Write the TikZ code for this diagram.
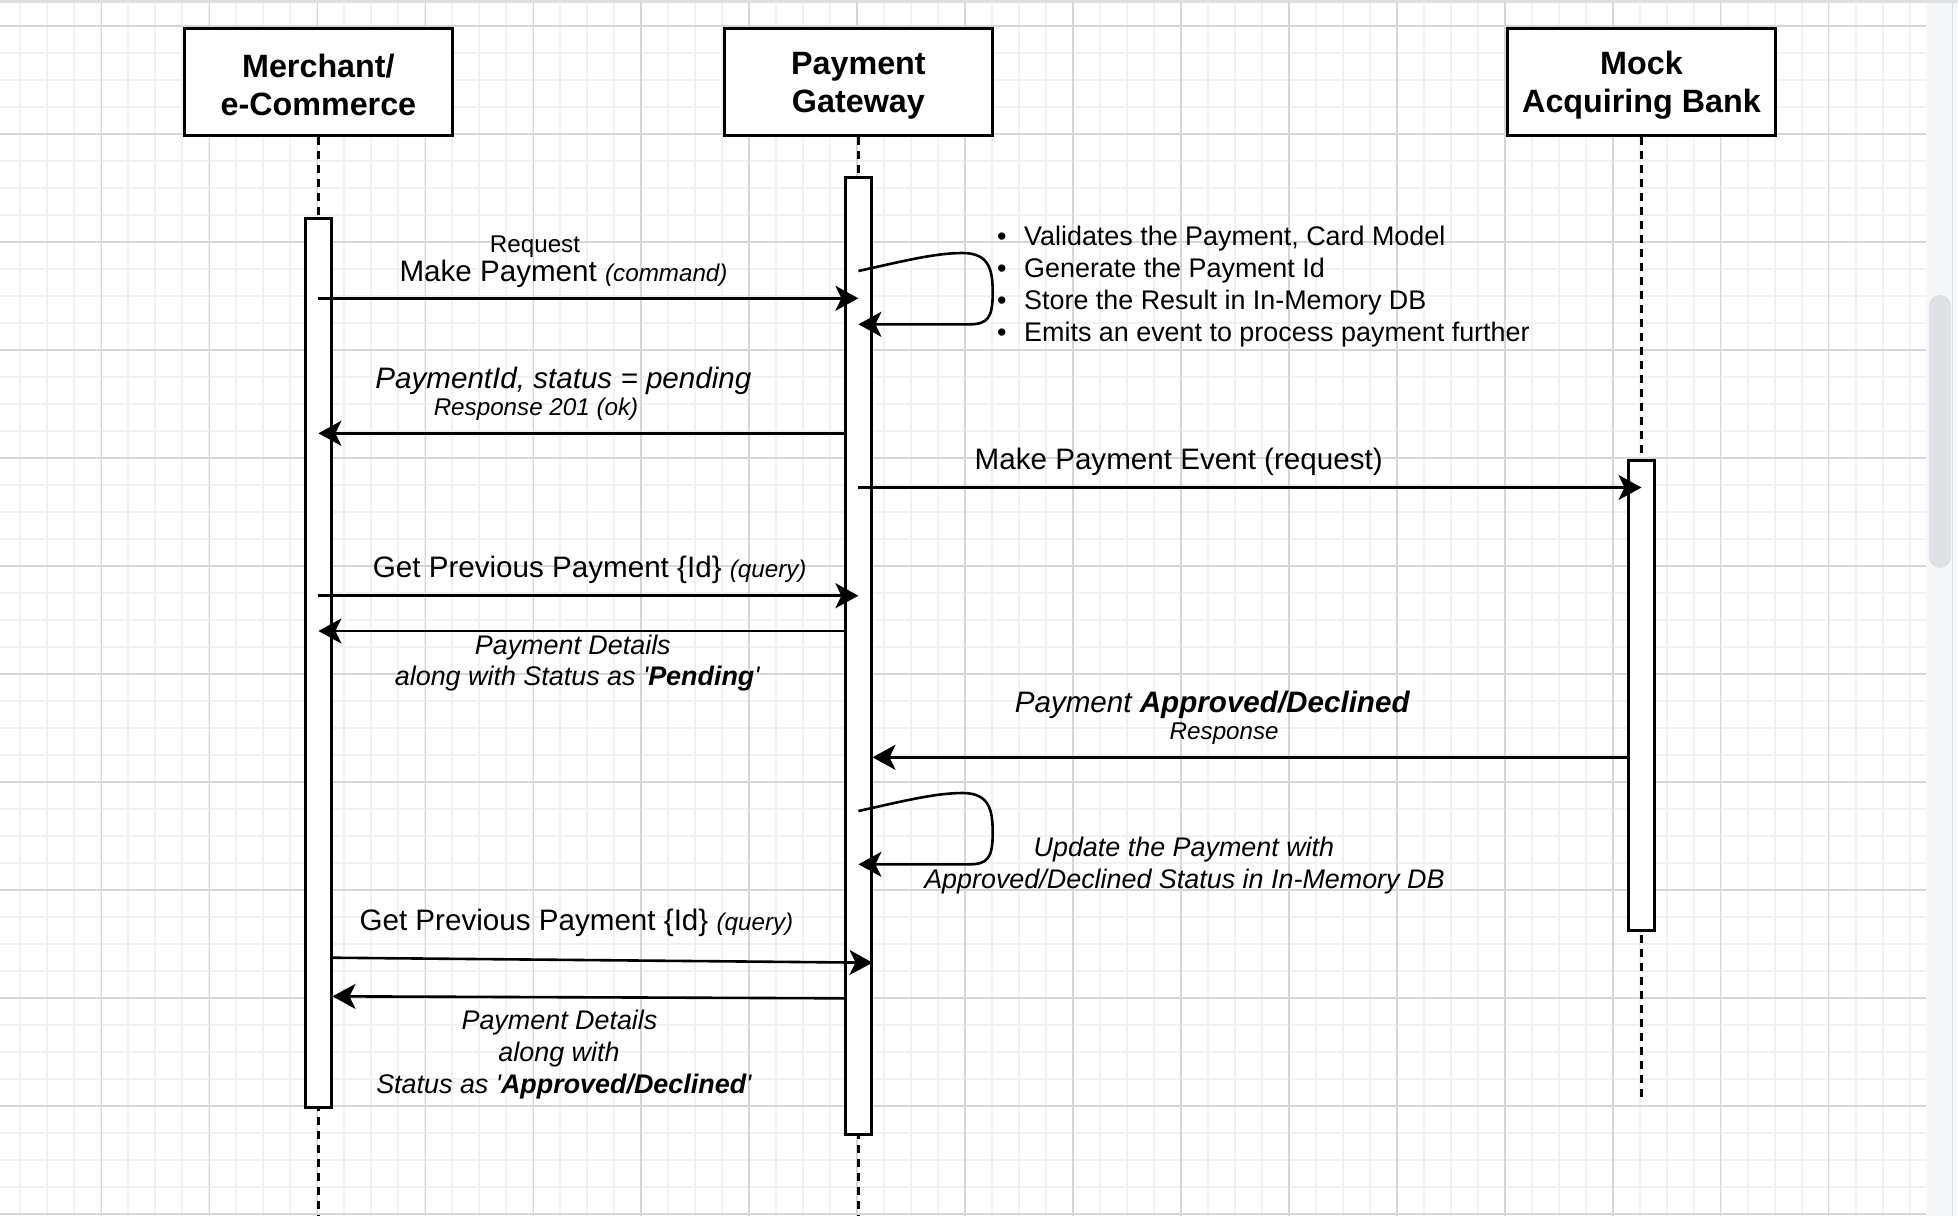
\documentclass[tikz,border=0pt]{standalone}
\usepackage{fontspec}
\setmainfont{Liberation Sans}
\usetikzlibrary{arrows.meta}

\definecolor{gridminor}{HTML}{F1F1F1}
\definecolor{gridmajor}{HTML}{D6D6D6}
\definecolor{chrome}{HTML}{F6F7F9}
\definecolor{chromeline}{HTML}{D9DADE}
\definecolor{thumbgray}{HTML}{DFE0E4}
\definecolor{topband}{HTML}{DEDFE3}

\newcommand\fsTitle{\fontsize{32.3}{38.5}\selectfont\bfseries}
\newcommand\fsMain{\fontsize{29.6}{35.5}\selectfont}
\newcommand\fsMid{\fontsize{26.9}{32.3}\selectfont}
\newcommand\fsSmall{\fontsize{24.2}{29}\selectfont}
% fixed line extents so every title sits on the same baselines
\newcommand\topstrut{\rule{0pt}{29pt}}
\newcommand\botstrut{\rule{0pt}{0pt}}

\begin{document}
\begin{tikzpicture}[x=1pt,y=-1pt,
  actor/.style={draw, line width=2.7pt, fill=white, minimum width=268pt,
    minimum height=107pt, inner sep=0pt, align=center, font=\fsTitle},
  bar/.style={draw, line width=2.7pt, fill=white, minimum width=25.5pt, inner sep=0pt},
  life/.style={line width=2.4pt, dash pattern=on 8pt off 6pt},
  msg/.style={line width=2.6pt, -{Stealth[length=23pt, width=25pt, inset=6pt]}},
  lbl/.style={inner sep=0pt, anchor=base},
  item/.style={inner sep=0pt, anchor=base west, font=\fsMid},
  dot/.style={inner sep=0pt, anchor=base, font=\fsMid},
]
\useasboundingbox (0,0) rectangle (1958,1216);

% canvas background with grid
\fill[white] (0,0) rectangle (1958,1216);
\begin{scope}
  \clip (0,0) rectangle (1926,1216);
  \foreach \i in {0,...,71}
    \draw[gridminor, line width=2pt] ({-6.5+26.9875*\i},0) -- ++(0,1216);
  \foreach \j in {0,...,45}
    \draw[gridminor, line width=2pt] (0,{-1+27*\j}) -- ++(1926,0);
  \foreach \i in {0,4,...,68}
    \draw[gridmajor, line width=1.5pt] ({-6.5+26.9875*\i},0) -- ++(0,1216);
  \foreach \j in {1,5,...,45}
    \draw[gridmajor, line width=1.5pt] (0,{-1+27*\j}) -- ++(1926,0);
\end{scope}
\fill[topband] (0,0) rectangle (1958,2.5);
\fill[chrome] (1926,2.5) rectangle (1958,1216);
\draw[chromeline, line width=1pt] (1952,2.5) -- (1952,1216);
\fill[thumbgray, rounded corners=11pt] (1929,295) rectangle (1951,568);

% participants
\node[actor] (merchant) at (318.4,82.2) {\topstrut Merchant/\\e-Commerce\botstrut};
\node[actor] (gateway) at (858.4,82.2) {\topstrut Payment\\Gateway\botstrut};
\node[actor] (bank) at (1641.5,82.2) {\topstrut Mock\\Acquiring Bank\botstrut};

% lifelines
\draw[life] (merchant.south) -- (merchant.south |- 0,1216);
\draw[life] (gateway.south) -- (gateway.south |- 0,1216);
\draw[life] (bank.south) -- (bank.south |- 0,1099);

% activation bars
\node[bar, minimum height=889pt] (mbar) at (318.4,662.75) {};
\node[bar, minimum height=957pt] (gbar) at (858.4,655.85) {};
\node[bar, minimum height=469.5pt] (bbar) at (1641.5,695.4) {};

% messages
\draw[msg] (mbar.center |- 0,298.3) -- (gbar.center |- 0,298.3);
\draw[msg] (gbar.center |- 0,271)
  .. controls +(41,-9) and +(-28,0) .. ++(104,-18)
  .. controls +(27,0) and +(0,-23) .. ++(30.3,40)
  .. controls +(0,25) and +(18,0) .. ++(-23.3,31.3) -- ++(-111,0);
\draw[msg] (gbar.west |- 0,433.3) -- (mbar.center |- 0,433.3);
\draw[msg] (gbar.center |- 0,487.5) -- (bbar.center |- 0,487.5);
\draw[msg] (mbar.center |- 0,595.7) -- (gbar.center |- 0,595.7);
\draw[msg] (gbar.west |- 0,631) -- (mbar.center |- 0,631);
\draw[msg] (bbar.west |- 0,757.3) -- (gbar.east |- 0,757.3);
\draw[msg] (gbar.center |- 0,811)
  .. controls +(41,-9) and +(-28,0) .. ++(104,-18)
  .. controls +(27,0) and +(0,-23) .. ++(30.3,40)
  .. controls +(0,25) and +(18,0) .. ++(-23.3,31.3) -- ++(-111,0);
\draw[msg] (mbar.east |- 0,957.7) -- (gbar.east |- 0,962.7);
\draw[msg] (gbar.west |- 0,998.3) -- (mbar.east |- 0,996.3);

% message labels
\node[lbl, font=\fsSmall] (reqlbl) at (535,252.3) {Request};
\node[lbl, font=\fsMain] (makelbl) at (563.5,281.7) {Make Payment {\fsSmall\itshape (command)}};
\node[lbl, font=\fsMain\itshape] (pendlbl) at (563.4,388.3) {PaymentId, status = pending};
\node[lbl, font=\fsSmall\itshape] (resplbl) at (536,415) {Response 201 (ok)};
\node[lbl, font=\fsMain] (eventlbl) at (1178.7,469) {Make Payment Event (request)};
\node[lbl, font=\fsMain] (getlbl) at (589.7,577.7) {Get Previous Payment \{Id\} {\fsSmall\itshape (query)}};
\node[lbl, font=\fsMid\itshape] (detlbl) at (572.8,654) {Payment Details};
\node[lbl, font=\fsMid\itshape] (pendstat) at (577.2,685) {along with Status as \textquotesingle{\bfseries Pending}\textquotesingle};
\node[lbl, font=\fsMain\itshape] (apprlbl) at (1212.2,712.7) {Payment {\bfseries Approved/Declined}};
\node[lbl, font=\fsSmall\itshape] (apprresp) at (1224.2,739.3) {Response};
\node[lbl, font=\fsMid\itshape] (updlbl) at (1183.9,856) {Update the Payment with};
\node[lbl, font=\fsMid\itshape] (updlbl2) at (1184.4,888.3) {Approved/Declined Status in In-Memory DB};
\node[lbl, font=\fsMain] (getlbl2) at (576.4,930) {Get Previous Payment \{Id\} {\fsSmall\itshape (query)}};
\node[lbl, font=\fsMid\itshape] (detlbl2) at (559.5,1029) {Payment Details};
\node[lbl, font=\fsMid\itshape] (detlbl3) at (559,1061.7) {along with};
\node[lbl, font=\fsMid\itshape] (detlbl4) at (563.8,1093.3) {Status as \textquotesingle{\bfseries Approved/Declined}\textquotesingle};

% gateway processing steps
\node[dot] (b1) at (1001.7,245) {•};
\node[dot] (b2) at (1001.7,277.3) {•};
\node[dot] (b3) at (1001.7,309.6) {•};
\node[dot] (b4) at (1001.7,341.9) {•};
\node[item] (s1) at (1024,245) {Validates the Payment, Card Model};
\node[item] (s2) at (1024,277.3) {Generate the Payment Id};
\node[item] (s3) at (1024,309.6) {Store the Result in In-Memory DB};
\node[item] (s4) at (1024,341.9) {Emits an event to process payment further};
\end{tikzpicture}
\end{document}
